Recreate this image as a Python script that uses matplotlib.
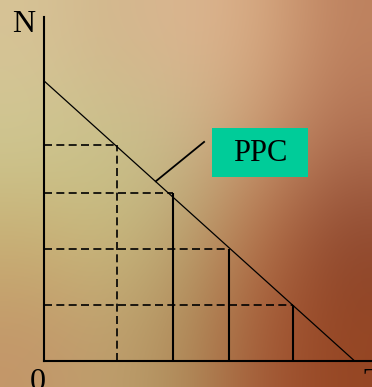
import numpy as np
import matplotlib.pyplot as plt
from matplotlib.patches import Rectangle

# production possibilities: good T on the x axis, good N on the y axis
ppc_t = [0, 55.5]
ppc_n = [50, 0]

# output combinations on the frontier
combo_t = [13, 23, 33, 44.5]
combo_n = [38.5, 30, 20, 10]

axis_labels = ["N", "0", "T"]
curve_label = "PPC"

# soft backdrop colours, rows top to bottom, columns left to right
bg_colors = np.array([
    [[215, 195, 150], [210, 182, 140], [220, 182, 145], [215, 170, 130], [190, 130, 95]],
    [[205, 200, 145], [200, 195, 140], [200, 185, 140], [200, 150, 110], [175, 110, 80]],
    [[200, 175, 115], [200, 185, 125], [185, 160, 110], [180, 110, 70], [140, 70, 45]],
    [[195, 150, 105], [190, 160, 110], [175, 140, 90], [165, 90, 55], [150, 70, 35]],
]) / 255.0

W, H = 372, 387
fig = plt.figure(figsize=(W / 100, H / 100), dpi=100)

bg = fig.add_axes([0, 0, 1, 1])
bg.imshow(bg_colors, aspect="auto", interpolation="bicubic", extent=[0, 1, 0, 1])
bg.set_axis_off()

ax = fig.add_axes([44 / W, 26 / H, (W - 44) / W, (361 - 17) / H])
ax.patch.set_alpha(0)
ax.set_xlim(0, 58.6)
ax.set_ylim(0, 61.4)
for s in ["top", "right"]:
    ax.spines[s].set_visible(False)
for s in ["left", "bottom"]:
    ax.spines[s].set_linewidth(1.5)
    ax.spines[s].set_color("black")
ax.set_xticks([])
ax.set_yticks([])

ax.plot(ppc_t, ppc_n, color="black", lw=0.9, clip_on=False)

dash = (0, (4.8, 2.6))
for i, (t, n) in enumerate(zip(combo_t, combo_n)):
    ax.plot([0, t], [n, n], color="black", lw=1.2, linestyle=dash)
    if i == 0:
        ax.plot([t, t], [0, n], color="black", lw=1.2, linestyle=dash)
    else:
        ax.plot([t, t], [0, n], color="black", lw=1.5, solid_capstyle="butt")

# leader line and label box
ax.plot([20, 28.6], [32.1, 39.1], color="black", lw=1.3)
ax.add_patch(Rectangle((30, 32.9), 17.1, 8.6, facecolor="#00CC99", edgecolor="none"))
ax.text(38.6, 37.1, curve_label, ha="center", va="center",
        family="Liberation Serif", fontsize=22)

serif = dict(family="Liberation Serif", fontsize=23, color="black")
fig.text(24 / W, 1 - 25 / H, axis_labels[0], ha="center", va="center", **serif)
fig.text(38 / W, 1 - 382 / H, axis_labels[1], ha="center", va="center", **serif)
fig.text(373 / W, 1 - 382 / H, axis_labels[2], ha="center", va="center", **serif)

fig.savefig("out.png", dpi=100)
